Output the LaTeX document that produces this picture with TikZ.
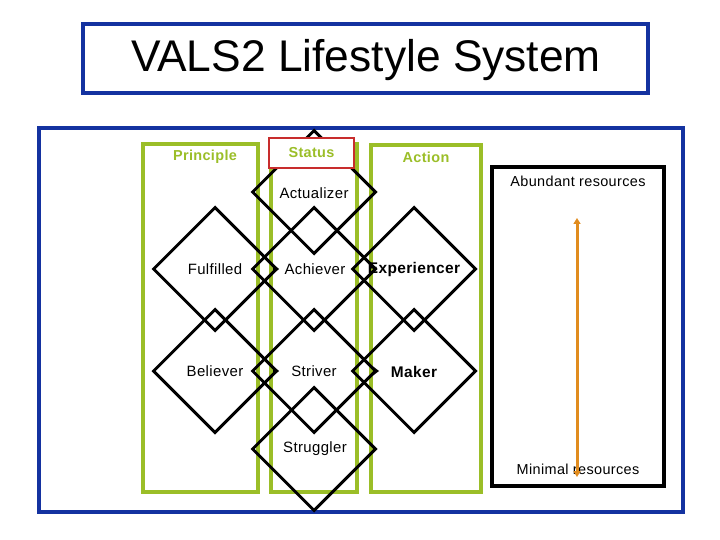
\documentclass[tikz,border=0pt]{standalone}
\usepackage{fontspec}
\setmainfont{Liberation Sans}
\newfontfamily\lbl{Liberation Sans}[LetterSpace=2.5]
\usetikzlibrary{shapes.geometric,arrows.meta}
\definecolor{vblue}{RGB}{20,50,160}
\definecolor{vgreen}{RGB}{155,190,40}
\definecolor{vred}{RGB}{200,45,45}
\definecolor{vorange}{RGB}{225,140,30}
\tikzset{
  blueframe/.style={draw=vblue, line width=3.2bp},
  greencol/.style={draw=vgreen, line width=3.6bp},
  dia/.style={shape=diamond, draw=black, line width=3bp, minimum width=124bp, minimum height=124bp, inner sep=0pt, aspect=1},
  reg/.style={font=\lbl\fontsize{15}{17}\selectfont},
  bld/.style={font=\lbl\bfseries\fontsize{15.5}{17}\selectfont},
  glabel/.style={text=vgreen, font=\lbl\bfseries\fontsize{14.5}{16}\selectfont},
  tri/.style={fill=black},
}
\begin{document}
\begin{tikzpicture}[x=1bp,y=-1bp]
\useasboundingbox (0,0) rectangle (720,540);
% title
\node[blueframe, minimum width=565bp, minimum height=69bp, inner sep=0pt] (titlebox) at (365.5,58.5) {};
\node[font=\fontsize{44.5}{47}\selectfont] (title) at (366,60) {VALS2 Lifestyle System};
% main frame
\node[blueframe, minimum width=644bp, minimum height=384bp, inner sep=0pt] (frame) at (361,320) {};
% green columns
\node[greencol, minimum width=115bp, minimum height=348bp, inner sep=0pt] (colP) at (200.5,318) {};
\node[greencol, minimum width=86bp, minimum height=348bp, inner sep=0pt] (colS) at (314,318) {};
\node[greencol, minimum width=110bp, minimum height=347bp, inner sep=0pt] (colA) at (426,318.5) {};
% resources box
\node[draw=black, line width=3.2bp, minimum width=172bp, minimum height=319bp, inner sep=0pt] (res) at (578,326.5) {};
% diamonds
\node[dia] (act) at (314,192) {};
\node[dia] (ful) at (215,269) {};
\node[dia] (ach) at (314,269) {};
\node[dia] (exp) at (414,269) {};
\node[dia] (bel) at (215,371) {};
\node[dia] (str) at (314,371) {};
\node[dia] (mak) at (414,371) {};
\node[dia] (stg) at (314,449) {};
% status box
\node[draw=vred, fill=white, line width=2.4bp, minimum width=85bp, minimum height=30bp, inner sep=0pt] (status) at (311.5,153) {};
\node[glabel] (statustxt) at (status.center) {Status};
\node[glabel] (princ) at (205,157) {Principle};
\node[glabel] (action) at (426,157) {Action};
% labels
\node[reg] (actl) at (314,193) {Actualizer};
\node[reg] (full) at (215,269) {Fulfilled};
\node[reg] (achl) at (315,269) {Achiever};
\node[bld] (expl) at (414,270) {Experiencer};
\node[reg] (bell) at (215,371) {Believer};
\node[reg] (strl) at (314,371) {Striver};
\node[bld] (makl) at (414,372) {Maker};
\node[reg] (stgl) at (315,449) {Struggler};
% small pointers
\fill[tri] (273,264.5) -- (279,269) -- (273,273.5) -- cycle;
\fill[tri] (273,366.5) -- (279,371) -- (273,375.5) -- cycle;
\fill[tri] (373,366.5) -- (379,371) -- (373,375.5) -- cycle;
% resources
\node[font=\lbl\fontsize{14.5}{16}\selectfont] (abund) at (578,181) {Abundant resources};
\node[font=\lbl\fontsize{14.5}{16}\selectfont] (minim) at (578,469) {Minimal resources};
\coordinate (atop) at (577,218);
\coordinate (abot) at (577,477);
\draw[vorange, line width=3bp, {Triangle[length=6bp,width=7bp]}-{Triangle[length=6bp,width=7bp]}] (abot) -- (atop);
\end{tikzpicture}
\end{document}
